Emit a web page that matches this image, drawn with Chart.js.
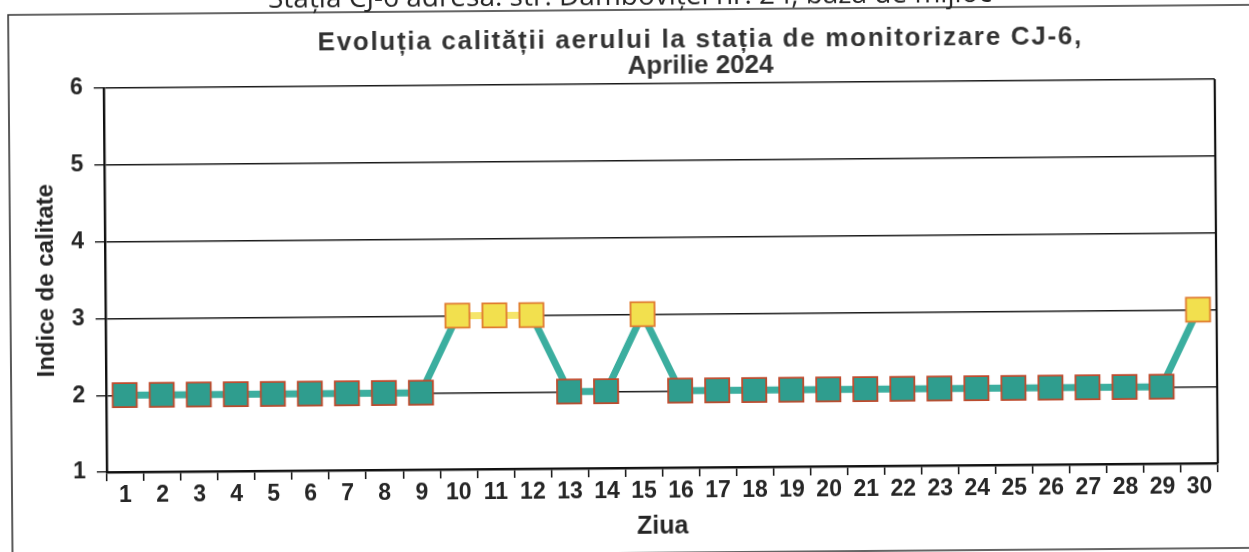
<!DOCTYPE html>
<html>
<head>
<meta charset="utf-8">
<script src="https://cdn.jsdelivr.net/npm/chart.js@4.4.1/dist/chart.umd.min.js"></script>
<style>
  html, body { margin: 0; padding: 0; background: #fff; overflow: hidden; width: 1249px; height: 552px; }
  /* the scanned page is slightly rotated */
  #chart { position: absolute; left: 0; top: 0; transform: rotate(-0.465deg); transform-origin: 0 0; }
</style>
</head>
<body>
<canvas id="chart" width="1280" height="580"></canvas>
<script>
const days = ['1', '2', '3', '4', '5', '6', '7', '8', '9', '10',
  '11', '12', '13', '14', '15', '16', '17', '18', '19', '20',
  '21', '22', '23', '24', '25', '26', '27', '28', '29', '30'];
const indexValues = [2, 2, 2, 2, 2, 2, 2, 2, 2, 3,
  3, 3, 2, 2, 3, 2, 2, 2, 2, 2,
  2, 2, 2, 2, 2, 2, 2, 2, 2, 3];
const yTicks = [1, 2, 3, 4, 5, 6];

const headerText = 'Stația CJ-6 adresa: str. Dâmboviței nr. 24, baza de mijloc';
const titleLines = ['Evoluția calității aerului la stația de monitorizare CJ-6,', 'Aprilie 2024'];
const yTitle = 'Indice de calitate';
const xTitle = 'Ziua';

const tealLine = '#3bae9f';
const tealFill = '#2f9d8e';
const yellowLine = '#f5e56a';
const yellowFill = '#f2e04e';
const redEdge = '#bf4a2c';
const orangeEdge = '#e07b30';
const textColor = '#262626';
const fontFamily = '"Liberation Sans", Arial, sans-serif';

const frame = {
  id: 'frame',
  beforeDraw(chart) {
    const ctx = chart.ctx;
    ctx.save();
    // outer frame of the figure
    ctx.strokeStyle = '#333';
    ctx.lineWidth = 1.6;
    ctx.beginPath();
    ctx.moveTo(1300, 15);
    ctx.lineTo(8, 15);
    ctx.lineTo(8, 558);
    ctx.lineTo(1300, 558);
    ctx.stroke();
    // caption line cut by the page edge
    ctx.fillStyle = textColor;
    ctx.font = '28px "Open Sans", sans-serif';
    ctx.textAlign = 'left';
    ctx.textBaseline = 'alphabetic';
    ctx.fillText(headerText, 268, 10, 735);
    // chart title (first line is spread a little wider, as in the scan)
    ctx.fillStyle = '#333';
    ctx.font = 'bold 26px ' + fontFamily;
    ctx.textAlign = 'center';
    ctx.textBaseline = 'middle';
    const w = ctx.measureText(titleLines[0]).width;
    if (w < 765) ctx.letterSpacing = ((765 - w) / titleLines[0].length).toFixed(2) + 'px';
    ctx.fillText(titleLines[0], 700, 46);
    ctx.letterSpacing = '0px';
    ctx.fillText(titleLines[1], 700, 72);
    ctx.restore();
  },
  afterDraw(chart) {
    const {ctx, chartArea} = chart;
    ctx.save();
    ctx.strokeStyle = '#111';
    ctx.lineWidth = 2.2;
    ctx.beginPath();
    ctx.moveTo(chartArea.right, chartArea.top);
    ctx.lineTo(chartArea.right, chartArea.bottom);
    ctx.stroke();
    ctx.restore();
  }
};

new Chart(document.getElementById('chart'), {
  type: 'line',
  data: {
    labels: days,
    datasets: [{
      data: indexValues,
      borderColor: tealLine,
      borderWidth: 7,
      segment: {
        borderColor: c => (c.p0.parsed.y >= 3 && c.p1.parsed.y >= 3) ? yellowLine : tealLine
      },
      pointStyle: 'rect',
      pointRadius: 17,
      pointHoverRadius: 17,
      pointBorderWidth: 1.8,
      pointBackgroundColor: c => c.raw >= 3 ? yellowFill : tealFill,
      pointBorderColor: c => c.raw >= 3 ? orangeEdge : redEdge,
      tension: 0
    }]
  },
  options: {
    responsive: false,
    animation: false,
    devicePixelRatio: 1,
    layout: { padding: { top: 89, left: 0, right: 66, bottom: 27 } },
    plugins: { legend: { display: false }, tooltip: { enabled: false }, title: { display: false } },
    scales: {
      x: {
        offset: true,
        afterFit: s => { s.height = 80; },
        grid: { display: true, drawOnChartArea: false, drawTicks: true, tickLength: 9, color: '#111', lineWidth: 1.5, offset: true },
        border: { display: true, color: '#111', width: 2.4 },
        ticks: {
          autoSkip: false, maxRotation: 0, padding: 1, color: textColor,
          font: { family: fontFamily, size: 23, weight: 'bold' }
        },
        title: {
          display: true, text: xTitle, color: textColor, padding: { top: 0, bottom: 6 },
          font: { family: fontFamily, size: 25, weight: 'bold' }
        }
      },
      y: {
        min: 1, max: 6,
        afterFit: s => { s.width = 103; },
        afterBuildTicks: s => { s.ticks = yTicks.map(v => ({ value: v })); },
        grid: { color: '#1a1a1a', lineWidth: 1.4, tickLength: 10 },
        border: { display: true, color: '#111', width: 2.4 },
        ticks: {
          padding: 11, color: textColor,
          font: { family: fontFamily, size: 23, weight: 'bold' }
        },
        title: {
          display: true, text: yTitle, color: textColor, padding: { top: 30, bottom: 0 },
          font: { family: fontFamily, size: 24, weight: 'bold' }
        }
      }
    }
  },
  plugins: [frame]
});
</script>
</body>
</html>
